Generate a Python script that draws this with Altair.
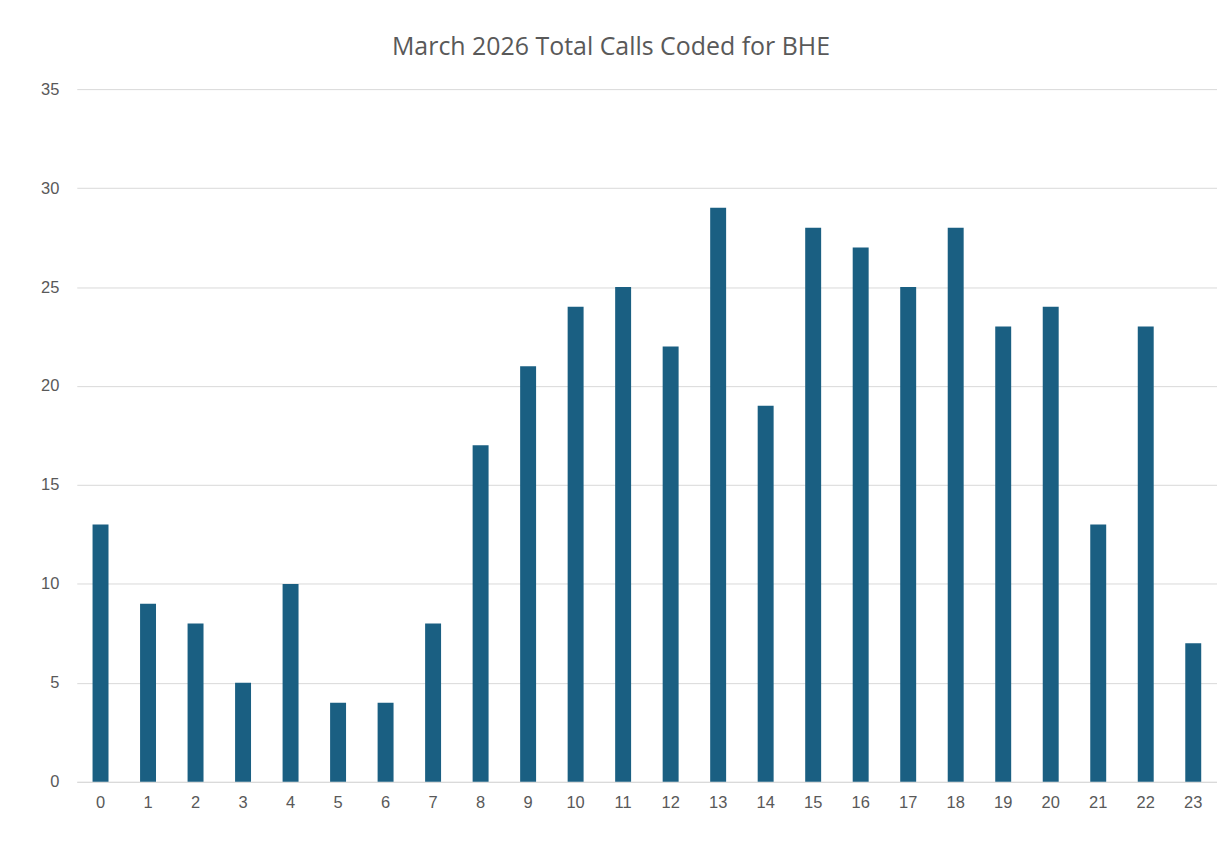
import altair as alt
import pandas as pd

hours = [str(h) for h in range(24)]
calls = [13, 9, 8, 5, 10, 4, 4, 8, 17, 21, 24, 25, 22, 29, 19, 28, 27, 25, 28, 23, 24, 13, 23, 7]

df = pd.DataFrame({"hour": hours, "calls": calls})

TITLE_FONT = "Open Sans"
LABEL_FONT = "Liberation Sans"
GRAY = "#595959"

chart = alt.Chart(df).mark_bar(color="#1a5f82", width=16).encode(
    x=alt.X("hour:N", sort=hours, title=None,
            scale=alt.Scale(paddingInner=0, paddingOuter=0),
            axis=alt.Axis(labelAngle=0, ticks=False, domainColor="#d9d9d9",
                          labelColor=GRAY, labelFont=LABEL_FONT, labelFontSize=16.5,
                          labelPadding=13, grid=False)),
    y=alt.Y("calls:Q", title=None,
            scale=alt.Scale(domain=[0, 35], nice=False),
            axis=alt.Axis(values=[0, 5, 10, 15, 20, 25, 30, 35], ticks=False, domain=False,
                          gridColor="#d9d9d9", labelColor=GRAY, labelFont=LABEL_FONT,
                          labelFontSize=16.5, labelPadding=18)),
).properties(
    width=1144,
    height=695,
    background="white",
    title=alt.TitleParams("March 2026 Total Calls Coded for BHE", font=TITLE_FONT, fontSize=25,
                          fontWeight="normal", color=GRAY, offset=21, dx=-36),
    autosize=alt.AutoSizeParams(type="none"),
    padding={"left": 69, "top": 80, "right": 0, "bottom": 60},
).configure_view(strokeWidth=0)

chart.save("out.html", embed_options={"renderer": "svg", "actions": False})
